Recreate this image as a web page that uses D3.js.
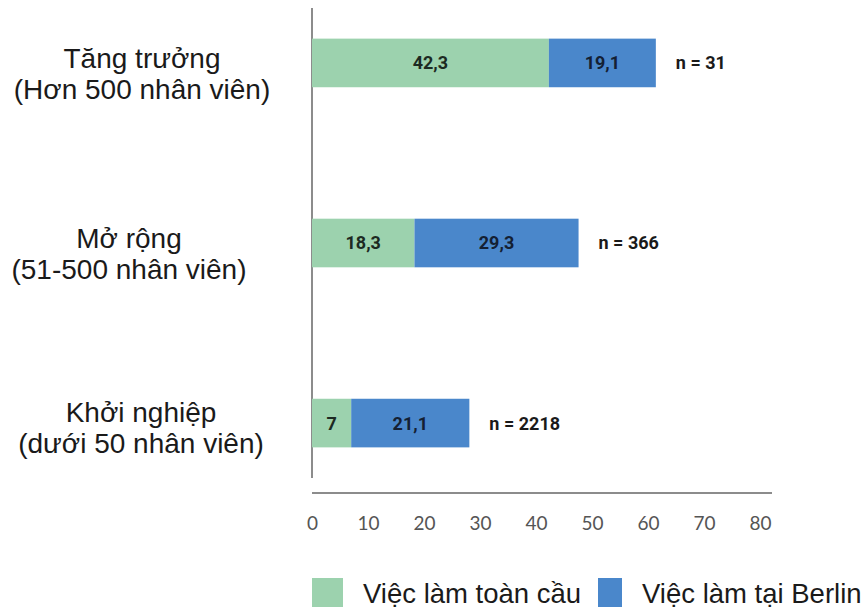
<!DOCTYPE html>
<html>
<head>
<meta charset="utf-8">
<script src="https://cdn.jsdelivr.net/npm/d3@7"></script>
<style>
  body { margin: 0; background: #fff; }
  svg { display: block; }
</style>
</head>
<body>
<div id="chart"></div>
<script>
const categories = ["Tăng trưởng", "Mở rộng", "Khởi nghiệp"];
const subLabels = ["(Hơn 500 nhân viên)", "(51-500 nhân viên)", "(dưới 50 nhân viên)"];
const globalJobs = [42.3, 18.3, 7];
const berlinJobs = [19.1, 29.3, 21.1];
const sampleSizes = ["n = 31", "n = 366", "n = 2218"];
const seriesNames = ["Việc làm toàn cầu", "Việc làm tại Berlin"];
const xTicks = [0, 10, 20, 30, 40, 50, 60, 70, 80];

const colors = ["#9cd2ae", "#4a87cb"];
const fmt = v => String(v).replace(".", ",");
// the labels in the source are not all centred / spaced the same way
const labelCenter = [142, 129, 141];
const labelShift = [0, 0, -6];

const width = 865, height = 611;
const svg = d3.select("#chart").append("svg")
  .attr("width", width)
  .attr("height", height);

const x = d3.scaleLinear().domain([0, 80]).range([312, 760]);
const y = d3.scaleBand()
  .domain(categories)
  .range([-28, 514])
  .paddingInner(0.73)
  .paddingOuter(0.37);

const rows = categories.map((c, i) => ({
  cat: c, sub: subLabels[i], g: globalJobs[i], b: berlinJobs[i], n: sampleSizes[i],
  lx: labelCenter[i], ly: labelShift[i]
}));

// vertical axis line
svg.append("line")
  .attr("x1", x(0)).attr("x2", x(0))
  .attr("y1", 8).attr("y2", 478)
  .attr("stroke", "#8c8c8c").attr("stroke-width", 2);

const row = svg.selectAll(".row").data(rows).enter().append("g")
  .attr("class", "row");

row.append("rect")
  .attr("x", x(0))
  .attr("y", d => y(d.cat))
  .attr("width", d => x(d.g) - x(0))
  .attr("height", y.bandwidth())
  .attr("fill", colors[0]);

row.append("rect")
  .attr("x", d => x(d.g))
  .attr("y", d => y(d.cat))
  .attr("width", d => x(d.g + d.b) - x(d.g))
  .attr("height", y.bandwidth())
  .attr("fill", colors[1]);

const valueFont = "Roboto, sans-serif";
const valueSize = 18;
row.append("text")
  .attr("x", d => (x(0) + x(d.g)) / 2)
  .attr("y", d => y(d.cat) + y.bandwidth() / 2)
  .attr("dy", "0.36em")
  .attr("text-anchor", "middle")
  .attr("font-family", valueFont).attr("font-weight", "bold")
  .attr("font-size", valueSize).attr("fill", "#1c2a22")
  .text(d => fmt(d.g));

row.append("text")
  .attr("x", d => (x(d.g) + x(d.g + d.b)) / 2)
  .attr("y", d => y(d.cat) + y.bandwidth() / 2)
  .attr("dy", "0.36em")
  .attr("text-anchor", "middle")
  .attr("font-family", valueFont).attr("font-weight", "bold")
  .attr("font-size", valueSize).attr("fill", "#142033")
  .text(d => fmt(d.b));

row.append("text")
  .attr("x", d => x(d.g + d.b) + 20)
  .attr("y", d => y(d.cat) + y.bandwidth() / 2)
  .attr("dy", "0.36em")
  .attr("font-family", valueFont).attr("font-weight", "bold")
  .attr("font-size", valueSize).attr("fill", "#1a1a1a")
  .text(d => d.n);

// category labels
const labelFont = "'Liberation Sans', Arial, sans-serif";
row.append("text")
  .attr("x", d => d.lx)
  .attr("y", d => y(d.cat) + y.bandwidth() / 2 + 5 + d.ly)
  .attr("text-anchor", "middle")
  .attr("font-family", labelFont).attr("font-size", 28).attr("fill", "#1a1a1a")
  .text(d => d.cat);

row.append("text")
  .attr("x", d => d.lx)
  .attr("y", d => y(d.cat) + y.bandwidth() / 2 + 36 + d.ly)
  .attr("text-anchor", "middle")
  .attr("font-family", labelFont).attr("font-size", 28).attr("fill", "#1a1a1a")
  .text(d => d.sub);

// x axis
const xAxis = d3.axisBottom(x).tickValues(xTicks).tickSize(0);
const gx = svg.append("g")
  .attr("transform", "translate(0,493)")
  .call(xAxis);
gx.select(".domain").remove();
gx.append("line")
  .attr("x1", x(0)).attr("x2", x(80) + 12)
  .attr("stroke", "#8c8c8c").attr("stroke-width", 2);
gx.selectAll(".tick text")
  .attr("y", 30)
  .attr("dy", "0.35em")
  .attr("font-family", "Lato, 'Noto Sans', sans-serif")
  .attr("font-size", 19)
  .attr("fill", "#555");

// legend
const legend = svg.append("g").attr("transform", "translate(0,578)");
const legendBox = [{ x: 312, w: 31 }, { x: 598, w: 24 }];
seriesNames.forEach((name, i) => {
  legend.append("rect")
    .attr("x", legendBox[i].x).attr("y", 0)
    .attr("width", legendBox[i].w).attr("height", 29)
    .attr("fill", colors[i]);
  legend.append("text")
    .attr("x", legendBox[i].x + legendBox[i].w + 20)
    .attr("y", 25)
    .attr("font-family", labelFont).attr("font-size", 27.5).attr("fill", "#1a1a1a")
    .text(name);
});
</script>
</body>
</html>
